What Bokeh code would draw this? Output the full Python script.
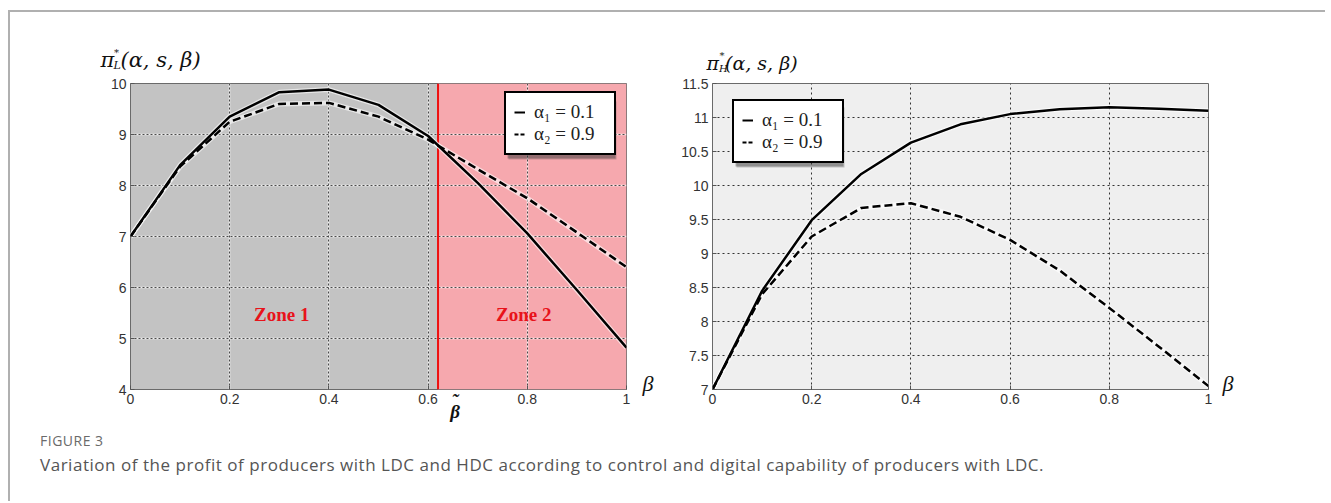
import math
from bokeh.plotting import figure
from bokeh.models import (Range1d, Label, Span, BoxAnnotation, Grid, FixedTicker, Legend,
                          LegendItem, Div, CustomJSTickFormatter, LinearAxis)
from bokeh.layouts import row, column
from bokeh.embed import file_html
from bokeh.resources import INLINE

# ---------------- data ----------------
beta = [0.0, 0.1, 0.2, 0.3, 0.4, 0.5, 0.6, 0.7, 0.8, 0.9, 1.0]
pi_L_alpha1 = [7.0, 8.40, 9.35, 9.83, 9.88, 9.58, 8.97, 8.05, 7.06, 5.95, 4.82]
pi_L_alpha2 = [7.0, 8.37, 9.25, 9.60, 9.62, 9.35, 8.90, 8.32, 7.75, 7.08, 6.40]
pi_H_alpha1 = [7.0, 8.45, 9.49, 10.17, 10.63, 10.90, 11.05, 11.12, 11.15, 11.13, 11.10]
pi_H_alpha2 = [7.0, 8.40, 9.25, 9.67, 9.74, 9.54, 9.20, 8.75, 8.20, 7.63, 7.05]
beta_tilde = 0.62
x_range = (0, 1)
yL_range = (4, 10)
yH_range = (7, 11.5)
x_ticks = [0, 0.2, 0.4, 0.6, 0.8, 1]
yL_ticks = [4, 5, 6, 7, 8, 9, 10]
yH_ticks = [7, 7.5, 8, 8.5, 9, 9.5, 10, 10.5, 11, 11.5]
legend_labels = ["α₁ = 0.1", "α₂ = 0.9"]
zone_labels = ["Zone 1", "Zone 2"]
zone_x = [0.305, 0.793]
zone_y = 5.47
ytitle_subs = ["L", "H"]
ytitle_body = "(α, s, β)"
caption_head = "FIGURE 3"
caption_text = ("Variation of the profit of producers with LDC and HDC according to control "
                "and digital capability of producers with LDC.")

SERIF = "Liberation Serif"
MATHS = "DejaVu Serif"
SANS = "Liberation Sans"
FRAME_W = 496
FRAME_H = 306
HEAD_H = 63          # header strip holding the y titles
TOP_B = 8
BOT_B = 37
FH = TOP_B + FRAME_H + BOT_B
INK = "#111111"
W1, W2 = 660, 655


def px2x(px):
    return x_range[0] + px * (x_range[1] - x_range[0]) / FRAME_W


def px2y(py, yr):
    return yr[0] + py * (yr[1] - yr[0]) / FRAME_H


def make_fig(width, mbl, yr, yticks, bg, beta_standoff):
    p = figure(width=width, height=FH, x_range=Range1d(*x_range), y_range=Range1d(*yr),
               min_border_left=mbl, min_border_right=width - mbl - FRAME_W,
               min_border_top=TOP_B, min_border_bottom=BOT_B, output_backend="svg",
               toolbar_location=None, background_fill_color=bg,
               border_fill_color="white", outline_line_color="#6a6a6a", outline_line_width=1)
    fmt = CustomJSTickFormatter(code="return String(tick);")
    p.xaxis.ticker = FixedTicker(ticks=x_ticks)
    p.yaxis.ticker = FixedTicker(ticks=yticks)
    for ax in (p.xaxis[0], p.yaxis[0]):
        ax.formatter = fmt
        ax.axis_line_color = None
        ax.major_tick_in = 4
        ax.major_tick_out = 0
        ax.major_tick_line_color = "#555555"
        ax.minor_tick_line_color = None
        ax.major_label_text_font = SANS
        ax.major_label_text_font_size = "14px"
        ax.major_label_text_color = "#333333"
        ax.major_label_standoff = 4
    p.xgrid.grid_line_color = None
    p.ygrid.grid_line_color = None
    # "β" at the right end of the horizontal axis
    bax = LinearAxis(ticker=FixedTicker(ticks=[px2y(6, yr)]),
                     formatter=CustomJSTickFormatter(code='return "β";'),
                     axis_line_color=None, major_tick_line_color=None,
                     minor_tick_line_color=None, major_label_standoff=beta_standoff,
                     major_label_text_font=SERIF, major_label_text_font_style="italic",
                     major_label_text_font_size="22px", major_label_text_color=INK)
    p.add_layout(bax, "right")
    return p


def add_grids(p, xt, yt, color, dash, white=False):
    if white:
        p.add_layout(Grid(dimension=0, ticker=FixedTicker(ticks=xt), grid_line_color="white",
                          grid_line_alpha=0.75, grid_line_width=1.5))
        p.add_layout(Grid(dimension=1, ticker=FixedTicker(ticks=yt), grid_line_color="white",
                          grid_line_alpha=0.75, grid_line_width=1.5))
    p.add_layout(Grid(dimension=0, ticker=FixedTicker(ticks=xt), grid_line_color=color,
                      grid_line_dash=dash, grid_line_width=1))
    p.add_layout(Grid(dimension=1, ticker=FixedTicker(ticks=yt), grid_line_color=color,
                      grid_line_dash=dash, grid_line_width=1))


def add_curves(p, y1, y2):
    p.line(beta, y1, line_color="white", line_width=5, line_alpha=0.6)
    p.line(beta, y2, line_color="white", line_width=5, line_alpha=0.6)
    p.line(beta, y1, line_color="black", line_width=2.5)
    p.line(beta, y2, line_color="black", line_width=2.5, line_dash="8 4")


def add_legend(p, yr, lx, by, w, h):
    d1 = p.line([math.nan], [math.nan], line_color="black", line_width=2)
    d2 = p.line([math.nan], [math.nan], line_color="black", line_width=2, line_dash="4 2")
    for k, a in ((4, 0.25), (3, 0.35)):
        p.add_layout(BoxAnnotation(left=px2x(lx + k), right=px2x(lx + k + w),
                                   bottom=px2y(by - k, yr), top=px2y(by - k + h, yr),
                                   fill_color="#333333", fill_alpha=a, line_color=None))
    leg = Legend(items=[LegendItem(label=legend_labels[0], renderers=[d1]),
                        LegendItem(label=legend_labels[1], renderers=[d2])],
                 location=(lx, by), border_line_color="black", border_line_width=2,
                 border_line_alpha=1, background_fill_color="white", background_fill_alpha=1,
                 label_text_font=SERIF, label_text_font_size="19px", label_text_color="#222222",
                 glyph_width=11, glyph_height=12, label_standoff=9, padding=8, spacing=0,
                 margin=0, label_height=(h - 16) // 2, label_width=w - 36)
    p.add_layout(leg)


def make_header(width, px, py, sub, size, sub_size, sub_dx, body_dx):
    h = figure(width=width, height=HEAD_H, x_range=Range1d(0, width), y_range=Range1d(0, HEAD_H),
               min_border=0, output_backend="svg", toolbar_location=None,
               x_axis_type=None, y_axis_type=None, outline_line_color=None,
               background_fill_color="white", border_fill_color="white")
    h.xgrid.visible = False
    h.ygrid.visible = False

    def lab(x, y, text, fs, style="italic"):
        h.add_layout(Label(x=x, y=y, text=text, text_font=MATHS, text_font_style=style,
                           text_font_size=f"{fs}px", text_baseline="middle", text_color=INK))
    lab(px, py, "π", size)
    lab(px + sub_dx + 0.5, py + 7, "*", round(size * 0.5), "normal")
    lab(px + sub_dx, py - 6, sub, sub_size)
    lab(px + body_dx, py, ytitle_body, size)
    return h


# ---------------- left panel ----------------
p1 = make_fig(W1, 120, yL_range, yL_ticks, "#c3c3c3", 10)
p1.add_layout(BoxAnnotation(left=beta_tilde, fill_color="#f6a8ae", fill_alpha=1,
                            line_color=None, level="underlay"))
add_grids(p1, x_ticks[1:-1], yL_ticks[1:-1], "#4a4a4a", "2 2", white=True)
p1.add_layout(Span(location=beta_tilde, dimension="height", line_color="#ee1111",
                   line_width=2, level="underlay"))
add_curves(p1, pi_L_alpha1, pi_L_alpha2)
for zl, zx in zip(zone_labels, zone_x):
    p1.add_layout(Label(x=zx, y=zone_y, text=zl, text_font=SERIF, text_font_style="bold",
                        text_font_size="19px", text_color="#e8121a", text_align="center",
                        text_baseline="middle"))
add_legend(p1, yL_range, 374, 234, 108, 58)
# β-tilde under the horizontal axis, right of the red threshold line (tilde stacked over β)
tax = LinearAxis(ticker=FixedTicker(ticks=[beta_tilde + px2x(17)]),
                 formatter=CustomJSTickFormatter(code='return "\u02dc\\nβ";'),
                 axis_line_color=None, major_tick_line_color=None, minor_tick_line_color=None,
                 major_label_standoff=-23, major_label_text_font=SERIF,
                 major_label_text_font_style="bold italic", major_label_text_font_size="19px",
                 major_label_text_line_height=0.55, major_label_text_color=INK)
p1.add_layout(tax, "below")

# ---------------- right panel ----------------
p2 = make_fig(W2, 42, yH_range, yH_ticks, "#efefef", 8)
add_grids(p2, x_ticks[1:-1], yH_ticks[1:-1], "#333333", "2 3")
add_curves(p2, pi_H_alpha1, pi_H_alpha2)
add_legend(p2, yH_range, 20, 226, 108, 60)

# ---------------- headers (y titles) ----------------
h1 = make_header(W1, 90, HEAD_H + 12 - 59, ytitle_subs[0], 21, 11, 13, 20)
h2 = make_header(W2, 36, HEAD_H + 12 - 62, ytitle_subs[1], 19, 10, 12.5, 18.5)

caption = Div(text=(
    f'<div style="font-family:\'Open Sans\';font-size:14px;color:#6a6a6a;line-height:18px;'
    f'letter-spacing:0.5px;padding-left:25px;padding-top:1px;">{caption_head}</div>'
    f'<div style="font-family:\'Open Sans\';font-size:17px;color:#555555;line-height:22px;'
    f'letter-spacing:0.53px;padding-left:25px;padding-top:4px;">{caption_text}</div>'),
    width=1300, height=65)

layout = column(row(h1, h2), row(p1, p2), caption, margin=(10, 0, 0, 8),
                styles={"border-top": "2px solid #b0b0b0", "border-left": "2px solid #b0b0b0"})

open("out.html", "w").write(file_html(layout, INLINE))
